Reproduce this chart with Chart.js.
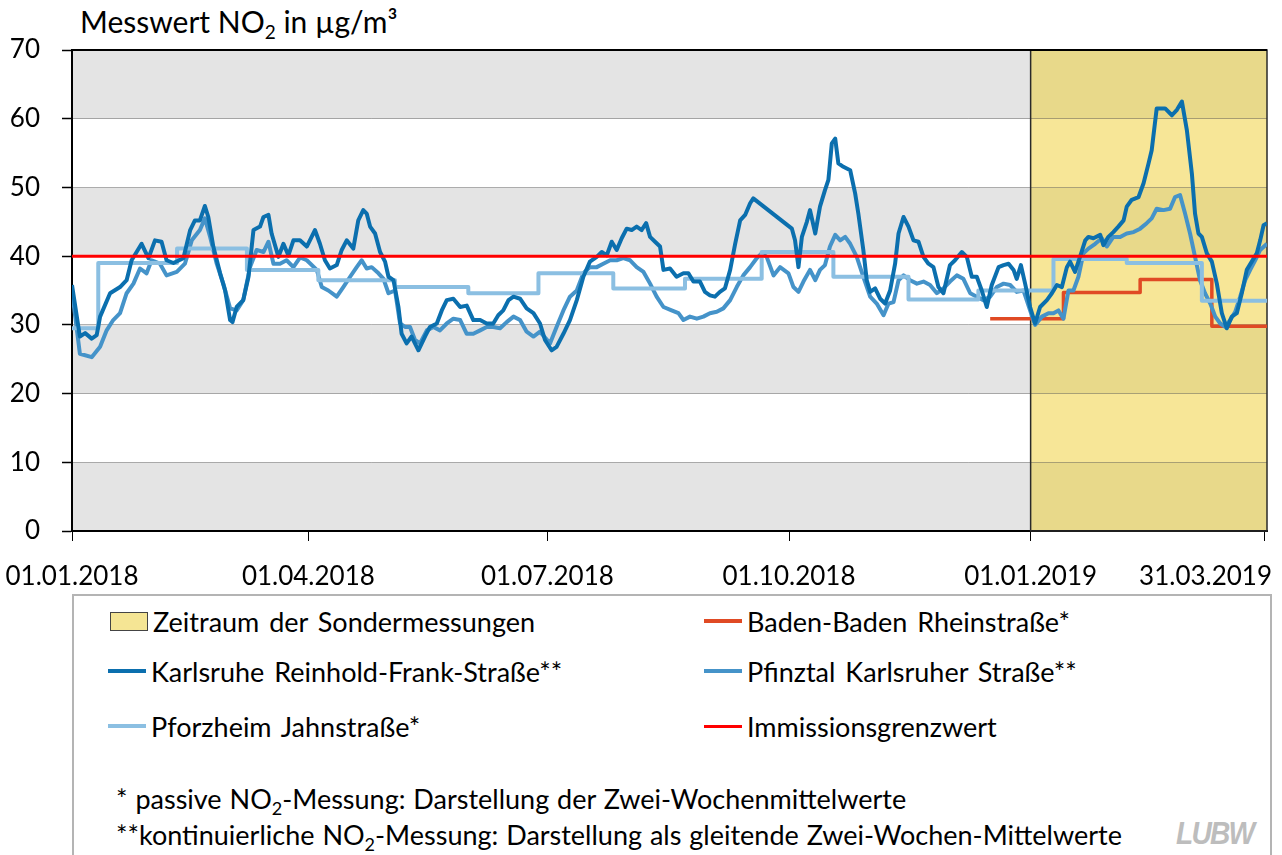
<!DOCTYPE html>
<html lang="de">
<head>
<meta charset="utf-8">
<title>Messwert NO2</title>
<script src="https://cdn.jsdelivr.net/npm/chart.js@4.4.1/dist/chart.umd.min.js"></script>
<style>
    body { margin: 0; width: 1282px; height: 855px; overflow: hidden; background: #fff; font-family: Lato, sans-serif; color: #000; }
    #title { position: absolute; left: 80px; top: 3px; font-size: 30px; white-space: nowrap; }
    #title sub { font-size: 19px; vertical-align: -6px; line-height: 0; }
    #chartCanvas { position: absolute; left: 0; top: 0; }
    #legendBox { position: absolute; left: 72px; top: 594px; width: 1196px; height: 300px; border: 2px solid #b4b4b4; }
    .item { position: absolute; font-size: 27px; white-space: nowrap; word-spacing: 3px; display: flex; align-items: center; height: 30px; }
    .swatch { display: inline-block; width: 38px; height: 4px; margin-right: 5px; }
    .box { display: inline-block; width: 38px; height: 19px; border: 1px solid #444; background: #f5e594; box-sizing: border-box; margin-right: 5px; }
    .note { position: absolute; left: 116px; font-size: 27px; white-space: nowrap; word-spacing: 1px; }
    .note sub { font-size: 18px; vertical-align: -6px; line-height: 0; }
    #logo { position: absolute; left: 1176px; top: 815px; font-family: "Liberation Sans", sans-serif; font-weight: bold; font-style: italic; font-size: 32px; color: #bdbdbd; letter-spacing: -2px; transform: scaleX(0.88); transform-origin: left center; }
</style>
</head>
<body>

<div id="title">Messwert NO<sub>2</sub> in µg/m³</div>
<canvas id="chartCanvas" width="1282" height="590"></canvas>

<div id="legendBox"></div>
<div class="item" style="left:110px; top:606px;"><span class="box"></span>Zeitraum der Sondermessungen</div>
<div class="item" style="left:704px; top:606px;"><span class="swatch" style="background:#e04a24"></span>Baden-Baden  Rheinstraße*</div>
<div class="item" style="left:108px; top:656px;"><span class="swatch" style="background:#0b6fae"></span>Karlsruhe Reinhold-Frank-Straße**</div>
<div class="item" style="left:704px; top:656px;"><span class="swatch" style="background:#4593c9"></span>Pfinztal Karlsruher Straße**</div>
<div class="item" style="left:108px; top:711px;"><span class="swatch" style="background:#8bbfe2"></span>Pforzheim Jahnstraße*</div>
<div class="item" style="left:704px; top:711px;"><span class="swatch" style="background:#ff0000; height:3px"></span>Immissionsgrenzwert</div>
<div class="note" style="top:782px;">* passive NO<sub>2</sub>-Messung: Darstellung der Zwei-Wochenmittelwerte</div>
<div class="note" style="top:818px;">**kontinuierliche NO<sub>2</sub>-Messung: Darstellung als gleitende Zwei-Wochen-Mittelwerte</div>
<div id="logo">LUBW</div>

<script>
// Days counted from 01.01.2018, values in µg/m³
const karlsruhe = [
    [0, 35.8], [3.0, 28.3], [5.0, 28.8], [7.5, 28.0], [9.4, 28.5], [10.7, 31.2], [14.5, 34.6], [18.3, 35.5],
    [20.8, 36.5], [22.7, 39.4], [26.5, 41.8], [29.1, 39.7], [31.6, 42.3], [34.1, 42.1], [36.0, 39.4], [38.6, 39.0],
    [42.4, 39.7], [45.0, 43.8], [46.8, 45.2], [48.7, 45.2], [50.6, 47.3], [51.9, 45.7], [53.8, 41.4], [56.4, 37.5],
    [58.3, 35.0], [60.2, 30.7], [61.1, 30.4], [62.7, 32.6], [65.2, 33.6], [67.2, 37.0], [69.1, 43.8], [71.6, 44.3],
    [72.9, 45.7], [74.8, 46.0], [76.0, 43.3], [78.6, 39.9], [80.5, 41.8], [82.4, 40.1], [84.3, 42.3], [86.8, 42.3],
    [89.4, 41.4], [92.5, 43.8], [94.4, 41.8], [96.3, 39.4], [98.2, 38.2], [100.8, 38.7], [102.7, 40.9], [104.6, 42.3],
    [107.1, 41.1], [109.0, 45.2], [110.9, 46.7], [112.2, 46.2], [113.5, 44.3], [115.4, 43.3], [117.3, 40.6], [119.2, 39.2],
    [120.5, 37.0], [122.4, 36.5], [124.3, 32.6], [125.5, 28.7], [127.4, 27.3], [129.3, 28.3], [131.9, 26.3], [134.4, 28.3],
    [136.3, 29.7], [138.9, 30.2], [140.8, 32.1], [142.7, 33.6], [145.2, 33.8], [147.8, 32.6], [150.3, 32.8], [152.8, 30.7],
    [155.4, 30.7], [157.9, 30.2], [160.4, 30.2], [162.3, 31.4], [164.2, 32.1], [166.2, 33.6], [168.1, 34.1], [170.6, 33.8],
    [173.1, 32.4], [175.7, 31.7], [178.2, 30.2], [180.1, 27.8], [182.6, 26.3], [184.5, 26.8], [187.1, 28.7], [189.6, 30.7],
    [192.2, 33.6], [194.7, 37.0], [197.2, 39.2], [199.8, 39.9], [201.7, 40.6], [203.6, 40.1], [205.5, 42.1], [207.4, 40.9],
    [209.3, 42.6], [211.2, 44.0], [213.1, 43.8], [215.0, 44.3], [216.9, 43.8], [218.6, 44.8], [220.1, 42.8], [222.0, 42.1],
    [223.9, 41.4], [225.2, 38.0], [227.7, 38.2], [230.2, 37.0], [232.8, 37.5], [234.7, 37.5], [236.6, 36.3], [239.1, 36.3],
    [241.0, 34.8], [242.9, 34.3], [244.8, 34.1], [246.7, 34.8], [248.6, 35.3], [250.6, 38.0], [252.5, 41.8], [254.4, 45.2],
    [256.3, 46.0], [258.2, 47.7], [259.4, 48.4], [274.1, 44.0], [275.3, 42.3], [276.6, 38.4], [277.9, 42.8], [279.8, 45.0],
    [281.0, 46.7], [283.0, 43.3], [284.8, 47.2], [286.7, 49.6], [288.0, 51.1], [289.3, 56.4], [290.6, 57.1], [291.8, 53.5],
    [293.7, 53.0], [296.3, 52.5], [298.2, 49.1], [299.4, 46.2], [301.3, 40.9], [302.6, 36.5], [303.9, 34.8], [305.8, 35.3],
    [307.7, 33.8], [309.6, 33.1], [311.5, 35.0], [313.4, 38.9], [314.7, 43.3], [316.6, 45.7], [318.5, 44.3], [320.4, 42.3],
    [322.3, 42.1], [324.2, 39.9], [326.1, 38.9], [328.0, 38.4], [329.9, 35.5], [331.8, 34.6], [334.3, 38.7], [336.2, 39.4],
    [338.8, 40.6], [340.7, 39.9], [342.6, 37.0], [344.5, 37.0], [346.4, 35.0], [348.3, 32.6], [350.2, 35.8], [352.8, 38.4],
    [354.7, 38.7], [356.6, 38.9], [358.5, 38.0], [359.7, 36.7], [361.3, 38.7], [362.9, 36.0], [364.8, 32.6], [366.7, 30.2],
    [368.6, 32.6], [371.2, 33.6], [373.1, 34.6], [375.0, 35.8], [376.9, 35.5], [378.8, 38.4], [380.0, 39.2], [381.9, 37.7],
    [383.8, 39.9], [385.8, 42.3], [387.0, 42.8], [388.9, 42.6], [391.5, 43.1], [392.7, 41.6], [394.6, 42.8], [396.5, 43.5],
    [398.4, 44.3], [400.4, 45.2], [401.6, 47.2], [403.5, 48.2], [406.1, 48.6], [408.0, 50.6], [409.9, 53.5], [411.1, 55.4],
    [413.0, 61.5], [416.2, 61.5], [418.8, 60.5], [420.7, 61.3], [422.6, 62.5], [424.5, 58.3], [426.4, 52.0], [427.6, 46.2],
    [428.9, 43.3], [430.2, 42.8], [432.1, 40.4], [434.0, 39.2], [435.9, 36.0], [437.8, 31.7], [439.7, 29.5], [441.6, 31.2],
    [443.5, 31.7], [445.4, 34.6], [447.3, 38.0], [449.2, 39.2], [451.1, 40.4], [452.4, 42.3], [453.7, 44.5], [455, 44.8]
];

const pfinztal = [
    [0, 35.0], [3.0, 25.8], [7.5, 25.3], [10.7, 26.8], [13.2, 29.2], [15.7, 30.7], [18.3, 31.7], [20.8, 34.6],
    [23.4, 36.0], [25.9, 38.2], [28.4, 37.5], [30.3, 39.4], [33.5, 38.9], [36.0, 37.2], [39.9, 37.7], [43.0, 38.9],
    [45.6, 42.3], [48.7, 43.8], [50.6, 45.5], [52.6, 42.8], [55.1, 38.9], [57.6, 36.0], [60.2, 32.4], [62.7, 32.1],
    [65.2, 33.6], [67.8, 38.4], [70.3, 40.9], [72.9, 40.6], [74.8, 42.1], [76.7, 38.9], [79.2, 38.9], [81.7, 39.4],
    [84.3, 38.4], [86.8, 39.8], [89.4, 39.4], [93.2, 38.0], [95.1, 35.5], [97.6, 35.0], [100.8, 34.1], [103.3, 35.5],
    [105.9, 37.0], [108.4, 38.4], [110.3, 39.4], [112.2, 38.2], [114.1, 38.4], [116.7, 37.5], [118.6, 36.7], [120.5, 34.6],
    [123.0, 35.0], [124.9, 30.2], [126.8, 29.7], [128.7, 29.7], [130.6, 27.8], [132.5, 27.3], [135.1, 29.2], [137.6, 29.7],
    [140.1, 29.2], [142.7, 30.2], [145.2, 30.9], [147.8, 30.7], [150.3, 28.7], [152.8, 28.7], [155.4, 29.2], [157.9, 29.7],
    [160.4, 29.7], [163.0, 29.5], [165.5, 30.4], [168.1, 31.2], [170.6, 30.7], [173.1, 29.0], [175.7, 28.3], [178.2, 29.0],
    [182.0, 27.3], [184.5, 29.7], [187.1, 32.1], [189.6, 34.1], [192.2, 35.0], [194.7, 37.5], [197.2, 38.4], [199.8, 38.4],
    [202.3, 38.9], [204.9, 39.4], [207.4, 39.4], [209.9, 39.7], [212.5, 39.4], [215.0, 38.4], [217.6, 37.7], [220.1, 36.0],
    [222.6, 34.1], [225.2, 32.6], [228.3, 32.1], [230.9, 31.7], [232.8, 30.7], [235.3, 31.2], [237.9, 30.9], [240.4, 31.2],
    [242.9, 31.7], [245.5, 31.9], [248.0, 32.4], [250.6, 33.6], [253.1, 35.5], [255.6, 37.2], [258.2, 38.4], [260.7, 39.7],
    [262.6, 40.4], [264.5, 39.9], [267.1, 37.2], [269.6, 38.4], [272.8, 37.5], [274.7, 35.5], [276.6, 34.8], [278.5, 36.3],
    [281.0, 38.0], [283.0, 36.5], [284.8, 38.0], [286.7, 38.7], [288.6, 41.4], [290.6, 43.1], [292.5, 42.3], [294.4, 42.8],
    [296.3, 41.8], [298.8, 39.9], [301.3, 37.0], [303.9, 34.1], [306.4, 33.1], [309.0, 31.4], [310.9, 33.1], [312.8, 33.3],
    [314.7, 36.5], [316.6, 37.2], [319.1, 36.5], [321.7, 36.0], [324.2, 36.3], [326.7, 35.8], [329.3, 34.6], [331.8, 35.3],
    [334.3, 36.3], [336.9, 37.2], [339.4, 36.7], [342.0, 34.6], [344.5, 34.1], [347.0, 33.6], [349.6, 34.1], [352.1, 35.5],
    [354.7, 36.0], [357.2, 35.8], [359.7, 34.8], [362.3, 35.0], [364.8, 32.1], [366.7, 30.0], [369.3, 31.2], [371.8, 31.7],
    [373.7, 31.7], [375.6, 32.1], [377.5, 30.9], [379.4, 35.0], [381.3, 35.0], [383.2, 37.0], [385.1, 40.4], [387.0, 41.1],
    [389.6, 41.8], [392.1, 42.6], [394.0, 41.4], [396.5, 42.8], [399.1, 42.8], [401.6, 43.3], [404.2, 43.5], [406.7, 44.0],
    [409.2, 44.8], [411.1, 45.5], [413.0, 46.9], [415.6, 46.7], [418.1, 46.9], [420.0, 48.6], [421.9, 48.9], [423.8, 46.2],
    [425.7, 43.3], [427.6, 39.9], [429.5, 36.5], [431.4, 34.6], [433.4, 33.1], [435.3, 31.2], [437.2, 30.2], [439.1, 29.7],
    [441.0, 30.7], [442.9, 31.9], [444.8, 34.1], [446.7, 36.5], [448.6, 38.0], [450.5, 39.4], [452.4, 40.9], [455, 41.8]
];

// Two-week passive samplers: [start day, value], last entry closes the final step
const pforzheim = [
    [0, 29.5], [10, 39.0], [40, 41.1], [66.6, 38.0], [93.8, 36.5], [123, 35.5], [150.9, 34.6], [177.6, 37.5],
    [206.1, 35.3], [233.4, 36.7], [262.6, 40.6], [289.9, 37.0], [318.5, 33.7], [345.1, 35.0], [373.7, 39.6],
    [401.6, 39.0], [430.2, 33.5], [455, 33.5]
];
const badenBaden = [[349.6, 30.9], [377.5, 34.7], [406.7, 36.6], [434, 29.8], [455, 29.8]];

const limitValue = 40;
const specialStart = 365; // 01.01.2019, start of Sondermessungen
const dayMax = 455;

const xTickDays = [0, 90, 181, 273, 365, 454];
const xTickLabels = ['01.01.2018', '01.04.2018', '01.07.2018', '01.10.2018', '01.01.2019', '31.03.2019'];
const yMax = 70;
const yStep = 10;

const toPoints = (pairs) => pairs.map(([x, y]) => ({ x: x, y: y }));

/* Background bands, frames and date labels */
const framePlugin = {
    id: 'frame',
    beforeDraw: (chart) => {
        const { ctx, chartArea, scales } = chart;
        const xs = scales.x.getPixelForValue(specialStart);
        ctx.save();
        for (let v = 0; v < yMax; v += yStep) {
            const top = scales.y.getPixelForValue(v + yStep);
            const bottom = scales.y.getPixelForValue(v);
            const grey = (v / yStep) % 2 === 0;
            ctx.fillStyle = grey ? '#e4e4e4' : '#ffffff';
            ctx.fillRect(chartArea.left, top, xs - chartArea.left, bottom - top);
            ctx.fillStyle = grey ? '#e8d98a' : '#f7e697';
            ctx.fillRect(xs, top, chartArea.right - xs, bottom - top);
        }
        ctx.restore();
    },
    beforeDatasetsDraw: (chart) => {
        const { ctx, chartArea, scales } = chart;
        const xs = scales.x.getPixelForValue(specialStart);
        ctx.save();
        ctx.strokeStyle = '#2a2a2a';
        ctx.lineWidth = 1.5;
        ctx.strokeRect(xs, chartArea.top, chartArea.right - xs, chartArea.bottom - chartArea.top);
        ctx.strokeStyle = '#000';
        ctx.lineWidth = 2;
        ctx.beginPath();
        ctx.moveTo(chartArea.left, chartArea.top);
        ctx.lineTo(chartArea.right, chartArea.top);
        ctx.stroke();
        ctx.restore();
    },
    afterDraw: (chart) => {
        const { ctx, scales } = chart;
        ctx.save();
        ctx.font = '26px Lato';
        ctx.fillStyle = '#000';
        ctx.textBaseline = 'alphabetic';
        xTickDays.forEach((d, i) => {
            const last = i === xTickDays.length - 1;
            ctx.textAlign = last ? 'right' : 'center';
            const px = last ? chart.width - 10 : scales.x.getPixelForValue(d);
            ctx.fillText(xTickLabels[i], px, 585);
        });
        ctx.restore();
    }
};

const lineStyle = (color, width) => ({
    borderColor: color,
    backgroundColor: color,
    borderWidth: width,
    pointRadius: 0,
    fill: false,
    tension: 0,
    borderJoinStyle: 'round',
    borderCapStyle: 'butt'
});

const buildChart = () => {

    const data = {
        datasets: [
            { label: 'Immissionsgrenzwert', data: toPoints([[0, limitValue], [dayMax, limitValue]]), ...lineStyle('#ff0000', 3) },
            { label: 'Karlsruhe Reinhold-Frank-Straße**', data: toPoints(karlsruhe), ...lineStyle('#0b6fae', 4) },
            { label: 'Pforzheim Jahnstraße*', data: toPoints(pforzheim), stepped: true, ...lineStyle('#8bbfe2', 4) },
            { label: 'Pfinztal Karlsruher Straße**', data: toPoints(pfinztal), ...lineStyle('#4593c9', 4) },
            { label: 'Baden-Baden Rheinstraße*', data: toPoints(badenBaden), stepped: true, ...lineStyle('#e04a24', 3.5) }
        ]
    };

    const config = {
        type: 'line',
        data: data,
        options: {
            responsive: false,
            animation: false,
            devicePixelRatio: 1,
            layout: { padding: { top: 50, right: 15, bottom: 0, left: 0 } },
            plugins: {
                legend: { display: false },
                tooltip: { enabled: false }
            },
            scales: {
                x: {
                    type: 'linear',
                    min: 0,
                    max: dayMax,
                    afterBuildTicks: (scale) => { scale.ticks = xTickDays.map(v => ({ value: v })); },
                    afterFit: (scale) => { scale.height = 59; },
                    ticks: { display: false },
                    grid: { display: true, drawOnChartArea: false, drawTicks: true, tickLength: 10, tickColor: '#000', tickWidth: 1 },
                    border: { display: true, color: '#000', width: 2 }
                },
                y: {
                    min: 0,
                    max: yMax,
                    afterFit: (scale) => { scale.width = 72; },
                    ticks: { stepSize: yStep, color: '#000', padding: 22, font: { family: 'Lato', size: 26 } },
                    grid: { color: 'rgba(0,0,0,0.3)', lineWidth: 1, tickLength: 10, tickColor: '#000', tickWidth: 1.5 },
                    border: { display: true, color: '#000', width: 2 }
                }
            }
        },
        plugins: [framePlugin]
    };

    const ctx = document.getElementById('chartCanvas').getContext('2d');
    const no2Chart = new Chart(ctx, config);
}

document.addEventListener("DOMContentLoaded", () => {
    buildChart();
});
</script>
</body>
</html>
